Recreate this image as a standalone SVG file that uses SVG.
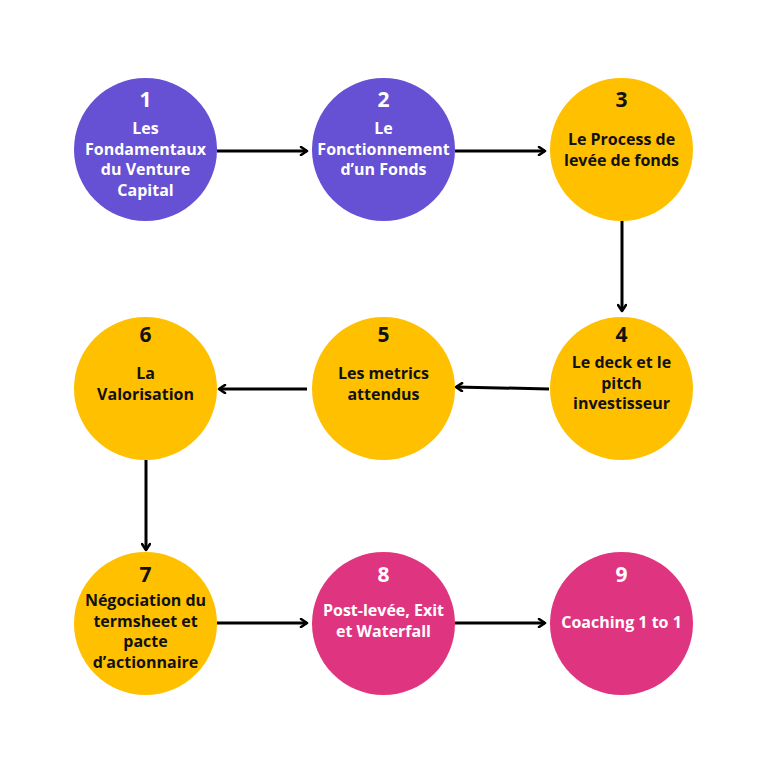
<svg xmlns="http://www.w3.org/2000/svg" width="768" height="775" viewBox="0 0 768 775">
<defs>
<marker id="ah" markerWidth="10" markerHeight="10" refX="8" refY="5" orient="auto" markerUnits="userSpaceOnUse">
<polyline points="2,1 8,5 2,9" fill="none" stroke="#000" stroke-width="2.6" stroke-linecap="round" stroke-linejoin="round"/>
</marker>
</defs>
<style>
.p{fill:#6650D3}.y{fill:#FFC000}.k{fill:#DF3580}
text{font-family:"Open Sans","Noto Sans","DejaVu Sans",sans-serif;font-weight:bold;text-anchor:middle}
.n{font-size:21px}.t{font-size:16px}
.w{fill:#fff}.b{fill:#111}
.c{stroke:#000;stroke-width:3;fill:none;marker-end:url(#ah)}
</style>
<rect width="768" height="775" fill="#fff"/>
<g id="connectors">
<line class="c" x1="217" y1="151" x2="307" y2="151"/>
<line class="c" x1="455" y1="151" x2="545" y2="151"/>
<line class="c" x1="622" y1="221" x2="622" y2="311"/>
<line class="c" x1="549" y1="389" x2="456" y2="387"/>
<line class="c" x1="307" y1="389" x2="219" y2="389"/>
<line class="c" x1="146" y1="460" x2="146" y2="550"/>
<line class="c" x1="217" y1="623" x2="307" y2="623"/>
<line class="c" x1="455" y1="623" x2="545" y2="623"/>
</g>
<g id="n1"><circle class="p" cx="145.5" cy="149.5" r="71.5"/>
<text class="n w" x="145.5" y="107">1</text>
<text class="t w" x="145.5" y="134">Les</text><text class="t w" x="145.5" y="154.5">Fondamentaux</text><text class="t w" x="145.5" y="175">du Venture</text><text class="t w" x="145.5" y="195.5">Capital</text></g>
<g id="n2"><circle class="p" cx="383.5" cy="149.5" r="71.5"/>
<text class="n w" x="383.5" y="107">2</text>
<text class="t w" x="383.5" y="134">Le</text><text class="t w" x="383.5" y="154.5">Fonctionnement</text><text class="t w" x="383.5" y="175">d’un Fonds</text></g>
<g id="n3"><circle class="y" cx="621.5" cy="149.5" r="71.5"/>
<text class="n b" x="621.5" y="107">3</text>
<text class="t b" x="621.5" y="145">Le Process de</text><text class="t b" x="621.5" y="165.5">levée de fonds</text></g>
<g id="n4"><circle class="y" cx="621.5" cy="388.5" r="71.5"/>
<text class="n b" x="621.5" y="342">4</text>
<text class="t b" x="621.5" y="368">Le deck et le</text><text class="t b" x="621.5" y="388.5">pitch</text><text class="t b" x="621.5" y="409">investisseur</text></g>
<g id="n5"><circle class="y" cx="383.5" cy="388.5" r="71.5"/>
<text class="n b" x="383.5" y="342">5</text>
<text class="t b" x="383.5" y="379">Les metrics</text><text class="t b" x="383.5" y="399.5">attendus</text></g>
<g id="n6"><circle class="y" cx="145.5" cy="388.5" r="71.5"/>
<text class="n b" x="145.5" y="342">6</text>
<text class="t b" x="145.5" y="379">La</text><text class="t b" x="145.5" y="399.5">Valorisation</text></g>
<g id="n7"><circle class="y" cx="145.5" cy="623.5" r="71.5"/>
<text class="n b" x="145.5" y="582">7</text>
<text class="t b" x="145.5" y="606">Négociation du</text><text class="t b" x="145.5" y="626.5">termsheet et</text><text class="t b" x="145.5" y="647">pacte</text><text class="t b" x="145.5" y="667.5">d’actionnaire</text></g>
<g id="n8"><circle class="k" cx="383.5" cy="623.5" r="71.5"/>
<text class="n w" x="383.5" y="582">8</text>
<text class="t w" x="383.5" y="616">Post-levée, Exit</text><text class="t w" x="383.5" y="636.5">et Waterfall</text></g>
<g id="n9"><circle class="k" cx="621.5" cy="623.5" r="71.5"/>
<text class="n w" x="621.5" y="582">9</text>
<text class="t w" x="621.5" y="628">Coaching 1 to 1</text></g>
</svg>
